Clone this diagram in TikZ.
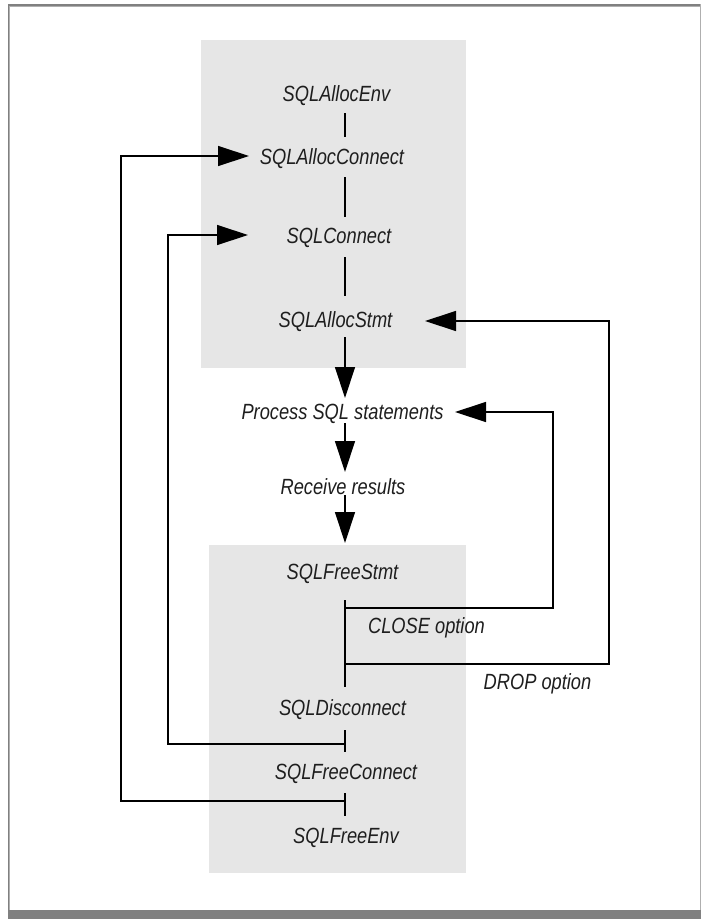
\documentclass[tikz,border=0pt]{standalone}
\usepackage{fontspec}
\setmainfont{Liberation Sans}[FakeStretch=0.83]
\usetikzlibrary{arrows.meta,calc}
\definecolor{panel}{RGB}{230,230,230}
\definecolor{rule}{RGB}{128,128,128}
\definecolor{rulelight}{RGB}{175,175,175}
\definecolor{ink}{RGB}{30,30,30}
\begin{document}
\begin{tikzpicture}[x=1pt,y=-1pt,
  lbl/.style={anchor=base,inner sep=0pt,text=ink,
    font=\fontsize{22}{26}\selectfont\itshape},
  conn/.style={line width=1.3pt,draw=black},
  flow/.style={conn,-{Triangle[length=31pt,width=20pt]}}]
\useasboundingbox (0,0) rectangle (701,919);
\fill[white] (0,0) rectangle (701,919);

% page frame
\fill[rule] (7.5,4) rectangle (701,5.8);
\fill[rulelight] (7.5,5.8) rectangle (701,7);
\fill[rule] (7.5,4) rectangle (8.8,919);
\fill[rulelight] (8.8,7) rectangle (9.8,910);
\fill[rulelight] (699.6,4) rectangle (701,910);
\fill[rule] (7.5,910) rectangle (701,919);

% shaded panels
\fill[panel] (201,40) rectangle (466,368);
\fill[panel] (209,545) rectangle (466,873);

% function names and steps
\node[lbl] (env)   at (336.5,101) {SQLAllocEnv};
\node[lbl] (ac)    at (332,164)   {SQLAllocConnect};
\node[lbl] (con)   at (339,243)   {SQLConnect};
\node[lbl] (stmt)  at (335.5,327) {SQLAllocStmt};
\node[lbl] (proc)  at (342.5,419) {Process SQL statements};
\node[lbl] (recv)  at (343,494)   {Receive results};
\node[lbl] (fstmt) at (342.5,579) {SQLFreeStmt};
\node[lbl] (close) at (426.5,633) {CLOSE option};
\node[lbl] (drop)  at (537.5,689) {DROP option};
\node[lbl] (disc)  at (342.5,715) {SQLDisconnect};
\node[lbl] (fcon)  at (346,779)   {SQLFreeConnect};
\node[lbl] (fenv)  at (346,843)   {SQLFreeEnv};

% routing columns
\coordinate (spine) at (345,0);
\coordinate (outerL) at (121,0);
\coordinate (innerL) at (168,0);
\coordinate (closeR) at (553,0);
\coordinate (dropR) at (609,0);

% main sequence
\draw[conn] ($(env.base -| spine)+(0,12)$) -- ($(ac.base -| spine)+(0,-27)$);
\draw[conn] ($(ac.base -| spine)+(0,13)$) -- ($(con.base -| spine)+(0,-26)$);
\draw[conn] ($(con.base -| spine)+(0,14)$) -- ($(stmt.base -| spine)+(0,-31)$);
\draw[flow] ($(stmt.base -| spine)+(0,10)$) -- ($(proc.base -| spine)+(0,-21)$);
\draw[flow] ($(proc.base -| spine)+(0,4)$) -- ($(recv.base -| spine)+(0,-22)$);
\draw[flow] ($(recv.base -| spine)+(0,1)$) -- ($(fstmt.base -| spine)+(0,-36)$);
\draw[conn] ($(fstmt.base -| spine)+(0,21)$) -- ($(disc.base -| spine)+(0,-28)$);
\draw[conn] ($(disc.base -| spine)+(0,15)$) -- ($(fcon.base -| spine)+(0,-27)$);
\draw[conn] ($(fcon.base -| spine)+(0,14)$) -- ($(fenv.base -| spine)+(0,-27)$);

% SQLFreeStmt with CLOSE: back to processing
\coordinate (jclose) at ($(fstmt.base -| spine)+(0,29)$);
\draw[flow] (jclose) -- (jclose -| closeR) -- ($(closeR |- proc.base)+(0,-7)$)
  -- ($(proc.base)+(112.5,-7)$);

% SQLFreeStmt with DROP: back to statement allocation
\coordinate (jdrop) at ($(fstmt.base -| spine)+(0,85)$);
\draw[flow] (jdrop) -- (jdrop -| dropR) -- ($(dropR |- stmt.base)+(0,-6)$)
  -- ($(stmt.base)+(89.5,-6)$);

% SQLDisconnect: back to SQLConnect
\coordinate (jdisc) at ($(disc.base -| spine)+(0,29)$);
\draw[flow] (jdisc) -- (jdisc -| innerL) -- ($(innerL |- con.base)+(0,-8)$)
  -- ($(con.base)+(-91,-8)$);

% SQLFreeConnect: back to SQLAllocConnect
\coordinate (jfcon) at ($(fcon.base -| spine)+(0,22)$);
\draw[flow] (jfcon) -- (jfcon -| outerL) -- ($(outerL |- ac.base)+(0,-8)$)
  -- ($(ac.base)+(-83,-8)$);
\end{tikzpicture}
\end{document}
